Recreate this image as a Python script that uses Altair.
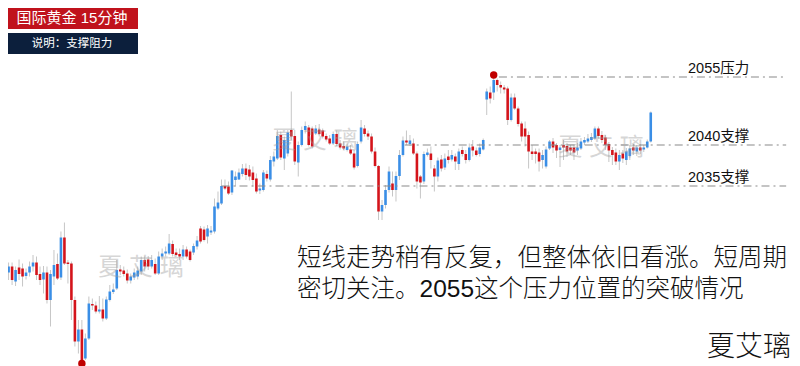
import altair as alt
import pandas as pd

# ---- candle data (15-minute gold bars) ----
idx = list(range(1, 187))
open_ = [
    2013.6, 2015.9, 2017.1, 2014.1, 2016.9, 2016.7, 2015.2, 2015.9, 2017.1, 2017.9,
    2015.6, 2014.5, 2015.9, 2010.4, 2015.1, 2017.6, 2014.9, 2022.9, 2017.9, 2017.7,
    2010.4, 2002.1, 2004.5, 1998.7, 2002.7, 2009.6, 2009.3, 2008.1, 2008.5, 2006.7,
    2010.4, 2012.0, 2012.7, 2016.5, 2016.3, 2015.7, 2014.3, 2014.9, 2015.1, 2016.1,
    2018.4, 2018.5, 2017.1, 2017.6, 2015.7, 2019.1, 2019.7, 2019.7, 2021.6, 2019.9,
    2019.6, 2019.1, 2020.5, 2020.1, 2019.9, 2021.1, 2024.7, 2024.5, 2023.1, 2023.9,
    2024.1, 2028.7, 2029.7, 2033.2, 2033.1, 2031.9, 2034.4, 2034.5, 2035.6, 2036.7,
    2036.5, 2035.9, 2034.7, 2032.3, 2032.4, 2035.6, 2034.5, 2038.1, 2038.7, 2043.4,
    2038.7, 2039.7, 2044.4, 2043.2, 2037.9, 2041.4, 2044.4, 2044.9, 2044.7, 2043.7,
    2044.5, 2044.3, 2043.2, 2042.7, 2041.7, 2043.6, 2041.7, 2041.2, 2040.4, 2040.5,
    2039.7, 2037.2, 2042.1, 2044.7, 2043.7, 2043.1, 2040.1, 2037.2, 2028.1, 2029.4,
    2032.4, 2033.7, 2032.4, 2035.2, 2039.4, 2042.3, 2041.6, 2041.7, 2039.7, 2035.1,
    2034.1, 2039.4, 2039.7, 2036.7, 2035.1, 2038.5, 2036.9, 2039.1, 2038.5, 2039.1,
    2037.6, 2040.4, 2039.6, 2038.4, 2041.1, 2040.3, 2039.6, 2040.5, 2050.5, 2051.9,
    2051.9, 2054.4, 2053.4, 2052.9, 2052.7, 2046.4, 2050.9, 2048.7, 2045.7, 2044.7,
    2043.4, 2040.1, 2040.1, 2039.9, 2038.4, 2037.1, 2040.7, 2042.1, 2041.4, 2040.4,
    2041.4, 2041.2, 2040.9, 2040.9, 2040.3, 2040.7, 2041.9, 2042.1, 2042.4, 2042.7,
    2044.7, 2043.4, 2042.9, 2041.6, 2040.4, 2039.9, 2038.1, 2039.7, 2038.4, 2039.2,
    2040.9, 2040.1, 2040.9, 2040.5, 2040.9, 2042.1,
]
close = [
    2016.1, 2017.1, 2014.4, 2016.4, 2015.6, 2015.1, 2015.9, 2017.1, 2017.9, 2015.4,
    2014.4, 2015.9, 2010.4, 2015.6, 2017.4, 2014.7, 2022.9, 2017.7, 2017.6, 2010.4,
    2002.1, 2004.5, 1998.4, 2002.7, 2009.7, 2009.3, 2008.1, 2008.5, 2006.7, 2010.5,
    2012.1, 2012.5, 2016.4, 2016.1, 2015.6, 2014.3, 2015.1, 2015.9, 2016.3, 2018.4,
    2017.1, 2017.1, 2018.4, 2015.7, 2019.1, 2019.7, 2020.1, 2021.7, 2019.6, 2019.4,
    2019.1, 2020.5, 2019.1, 2018.4, 2021.2, 2022.3, 2022.1, 2022.4, 2024.7, 2024.3,
    2029.1, 2029.9, 2033.2, 2032.7, 2031.7, 2036.3, 2035.1, 2035.9, 2036.7, 2035.4,
    2035.1, 2034.4, 2032.1, 2032.7, 2035.9, 2034.7, 2038.4, 2039.1, 2043.2, 2038.9,
    2042.4, 2043.9, 2043.1, 2038.1, 2041.4, 2044.4, 2045.2, 2041.4, 2041.1, 2044.7,
    2043.6, 2043.1, 2042.5, 2041.7, 2043.6, 2041.6, 2040.9, 2040.7, 2041.1, 2039.7,
    2036.9, 2041.6, 2044.9, 2043.6, 2043.1, 2040.1, 2037.2, 2028.1, 2029.4, 2032.4,
    2036.1, 2032.4, 2035.2, 2039.4, 2042.3, 2041.9, 2042.3, 2039.7, 2034.1, 2033.9,
    2039.6, 2039.9, 2038.4, 2035.1, 2038.3, 2036.7, 2038.7, 2038.4, 2039.4, 2038.1,
    2040.1, 2039.6, 2038.4, 2040.9, 2040.3, 2039.4, 2040.9, 2042.4, 2052.1, 2050.7,
    2054.4, 2053.4, 2052.9, 2052.5, 2046.4, 2050.9, 2048.7, 2045.6, 2043.1, 2043.1,
    2040.1, 2039.6, 2039.6, 2038.1, 2039.4, 2040.5, 2042.1, 2040.9, 2040.3, 2040.9,
    2040.9, 2040.1, 2040.3, 2039.9, 2040.9, 2042.1, 2042.4, 2042.7, 2043.0, 2044.7,
    2043.2, 2042.4, 2041.4, 2040.3, 2039.4, 2038.1, 2039.4, 2038.7, 2040.1, 2040.7,
    2040.3, 2040.9, 2040.3, 2040.9, 2042.1, 2047.9,
]
high = [
    2017.4, 2017.9, 2017.9, 2017.1, 2018.5, 2017.7, 2016.7, 2018.1, 2019.4, 2019.1,
    2017.1, 2017.2, 2017.1, 2016.4, 2020.4, 2019.7, 2024.1, 2025.9, 2018.4, 2018.1,
    2011.1, 2006.4, 2006.4, 2003.7, 2011.1, 2010.7, 2010.1, 2011.2, 2010.7, 2011.1,
    2013.4, 2013.7, 2018.4, 2017.4, 2017.1, 2016.5, 2015.7, 2016.7, 2017.1, 2019.1,
    2019.1, 2019.2, 2019.4, 2018.7, 2020.1, 2020.7, 2021.1, 2023.6, 2022.3, 2020.7,
    2020.7, 2021.4, 2021.1, 2020.5, 2021.7, 2023.2, 2025.2, 2025.1, 2025.4, 2025.2,
    2030.7, 2032.1, 2034.5, 2034.5, 2034.1, 2036.4, 2036.1, 2036.7, 2037.6, 2037.7,
    2037.4, 2037.1, 2035.7, 2033.7, 2036.4, 2036.3, 2039.2, 2040.1, 2044.4, 2044.1,
    2043.1, 2044.4, 2052.1, 2044.4, 2042.1, 2045.1, 2046.1, 2045.4, 2045.1, 2045.4,
    2045.6, 2044.7, 2043.7, 2043.4, 2044.1, 2044.3, 2042.4, 2042.1, 2041.7, 2041.4,
    2040.4, 2042.1, 2046.4, 2045.4, 2044.3, 2043.7, 2040.9, 2037.4, 2030.4, 2033.4,
    2037.1, 2036.1, 2036.1, 2040.4, 2043.1, 2044.3, 2043.4, 2042.7, 2040.1, 2035.4,
    2040.1, 2040.7, 2041.1, 2037.4, 2038.9, 2039.4, 2039.7, 2040.4, 2040.4, 2039.7,
    2040.7, 2041.1, 2040.4, 2041.7, 2042.4, 2040.9, 2041.7, 2042.7, 2052.7, 2053.1,
    2055.4, 2054.7, 2054.1, 2053.4, 2053.1, 2051.7, 2051.7, 2049.1, 2046.1, 2046.1,
    2044.1, 2041.4, 2040.7, 2040.7, 2040.4, 2041.1, 2042.4, 2042.8, 2041.8, 2041.4,
    2042.4, 2041.8, 2041.4, 2041.4, 2041.8, 2042.8, 2043.0, 2043.6, 2043.8, 2045.1,
    2045.1, 2044.2, 2043.4, 2042.0, 2041.0, 2040.7, 2040.4, 2040.4, 2040.8, 2041.4,
    2041.6, 2041.4, 2041.6, 2041.4, 2042.5, 2048.1,
]
low = [
    2012.1, 2014.4, 2013.4, 2013.2, 2014.4, 2013.1, 2014.5, 2015.1, 2016.1, 2014.4,
    2013.4, 2011.7, 2009.7, 2005.1, 2013.4, 2014.4, 2014.4, 2017.4, 2013.7, 2006.4,
    2001.1, 1999.7, 1997.7, 1998.4, 2002.4, 2008.4, 2007.7, 2007.7, 2006.1, 2006.4,
    2010.1, 2011.6, 2012.4, 2015.4, 2015.1, 2013.7, 2013.7, 2014.4, 2014.5, 2015.4,
    2016.1, 2016.4, 2016.7, 2015.4, 2015.4, 2018.4, 2019.1, 2019.4, 2019.1, 2019.1,
    2018.4, 2018.4, 2018.7, 2018.1, 2019.4, 2020.5, 2021.7, 2022.1, 2021.7, 2023.4,
    2023.7, 2028.4, 2029.4, 2032.4, 2031.4, 2031.4, 2033.1, 2034.4, 2035.1, 2034.4,
    2034.3, 2033.1, 2031.7, 2031.6, 2032.1, 2034.1, 2034.1, 2037.1, 2038.4, 2038.4,
    2036.4, 2039.1, 2042.4, 2037.4, 2035.1, 2041.1, 2043.7, 2041.1, 2040.7, 2043.4,
    2043.1, 2042.7, 2042.1, 2041.4, 2041.4, 2041.2, 2040.5, 2040.4, 2040.1, 2039.4,
    2036.5, 2036.9, 2041.7, 2043.1, 2042.4, 2039.7, 2036.9, 2026.4, 2026.4, 2028.7,
    2031.9, 2031.1, 2030.1, 2034.4, 2039.1, 2041.4, 2041.2, 2039.4, 2032.7, 2030.7,
    2033.6, 2039.1, 2036.7, 2032.1, 2034.1, 2036.1, 2036.4, 2037.7, 2038.1, 2036.4,
    2036.4, 2039.1, 2037.7, 2038.1, 2039.1, 2039.1, 2039.1, 2040.3, 2047.4, 2049.7,
    2050.4, 2052.1, 2051.7, 2051.7, 2045.4, 2046.1, 2048.4, 2045.1, 2042.1, 2041.1,
    2036.7, 2038.4, 2037.7, 2036.1, 2036.7, 2036.7, 2040.4, 2039.8, 2038.8, 2037.0,
    2038.4, 2039.0, 2039.4, 2038.4, 2039.4, 2040.4, 2041.4, 2041.8, 2042.0, 2042.4,
    2042.7, 2041.8, 2040.4, 2038.0, 2037.4, 2037.4, 2036.4, 2037.8, 2037.4, 2038.4,
    2039.4, 2039.2, 2039.6, 2040.0, 2040.7, 2041.9,
]

# ---- annotation levels ----
level_price = [2055.0, 2041.4, 2033.2]
level_start = [142.5, 115.5, 63.0]
level_end = [224.8, 224.8, 224.8]
level_label = ["2055压力", "2040支撑", "2035支撑"]

# ---- marked extremes ----
dot_idx = [23, 141]
dot_price = [1997.7, 2055.4]

title_text = "国际黄金 15分钟"
subtitle_text = "说明：支撑阻力"
comment_lines = ["短线走势稍有反复，但整体依旧看涨。短周期", "密切关注。2055这个压力位置的突破情况"]
author = "夏艾璃"
watermark = "夏 艾 璃"

FONT = "Liberation Sans, Noto Sans CJK SC, sans-serif"

df = pd.DataFrame({"i": idx, "open": open_, "high": high, "low": low, "close": close})
df["dir"] = ["up" if c >= o else "down" for o, c in zip(open_, close)]
lv = pd.DataFrame({"price": level_price, "start": level_start, "end": level_end, "label": level_label})
dots = pd.DataFrame({"i": dot_idx, "price": dot_price})

xs = alt.Scale(domain=[3.263, 225.04], nice=False)
ys = alt.Scale(domain=[1997.2, 2068.8], zero=False, nice=False)

base = alt.Chart(df)
wick = base.mark_rule(color="#c6c6c6", strokeWidth=1).encode(
    x=alt.X("i:Q", scale=xs, axis=None),
    y=alt.Y("low:Q", scale=ys, axis=None),
    y2="high:Q",
)
body = base.mark_bar(size=2.6).encode(
    x=alt.X("i:Q", scale=xs, axis=None),
    y=alt.Y("open:Q", scale=ys, axis=None),
    y2="close:Q",
    color=alt.Color("dir:N", scale=alt.Scale(domain=["up", "down"], range=["#3a8ee6", "#d4141b"]), legend=None),
)

lines = alt.Chart(lv).mark_rule(color="#8a8a8a", strokeWidth=1.2, strokeDash=[8, 4, 2, 4]).encode(
    x=alt.X("start:Q", scale=xs, axis=None),
    x2="end:Q",
    y=alt.Y("price:Q", scale=ys, axis=None),
)
labels = alt.Chart(lv).mark_text(align="left", baseline="middle", dy=-8.5, fontSize=14.5, font=FONT, color="#111111").encode(
    x=alt.value(680),
    y=alt.Y("price:Q", scale=ys, axis=None),
    text="label:N",
)
pts = alt.Chart(dots).mark_circle(size=55, color="#c00000", opacity=1).encode(
    x=alt.X("i:Q", scale=xs, axis=None),
    y=alt.Y("price:Q", scale=ys, axis=None),
)


def one(t):
    return alt.Chart(pd.DataFrame({"t": [t]}))


wm = []
for (wx, wy) in [(133, 260), (307, 133), (593, 140)]:
    wm.append(one(watermark).mark_text(align="center", baseline="middle", fontSize=24, font=FONT,
                                       color="#9a9a9a", opacity=0.4).encode(
        x=alt.value(wx), y=alt.value(wy), text="t:N"))

comment = []
for t, yy in zip(comment_lines, [251, 282]):
    comment.append(one(t).mark_text(align="left", baseline="middle", fontSize=24.5, font=FONT,
                                    fontWeight=300, color="#111111").encode(
        x=alt.value(289), y=alt.value(yy), text="t:N"))

sig = one(author).mark_text(align="left", baseline="middle", fontSize=28, font=FONT, fontWeight=300,
                            color="#111111").encode(x=alt.value(699), y=alt.value(340), text="t:N")

box1 = one(title_text).mark_rect(color="#c0121c").encode(
    x=alt.value(0), x2=alt.value(130), y=alt.value(0), y2=alt.value(21))
box2 = one(subtitle_text).mark_rect(color="#0c1f3c").encode(
    x=alt.value(0), x2=alt.value(130), y=alt.value(25), y2=alt.value(46))
t1 = one(title_text).mark_text(align="center", baseline="middle", fontSize=15, font=FONT, color="white").encode(
    x=alt.value(64), y=alt.value(10), text="t:N")
t2 = one(subtitle_text).mark_text(align="center", baseline="middle", fontSize=11.5, font=FONT, color="white").encode(
    x=alt.value(64), y=alt.value(35.5), text="t:N")

chart = alt.layer(
    wick, body, lines, labels, pts, *wm, *comment, sig, box1, box2, t1, t2
).properties(
    width=784, height=358, padding=0, autosize=alt.AutoSizeParams(type="none")
).configure_view(stroke=None)

chart.save("out.html", embed_options={"renderer": "svg", "actions": False})
